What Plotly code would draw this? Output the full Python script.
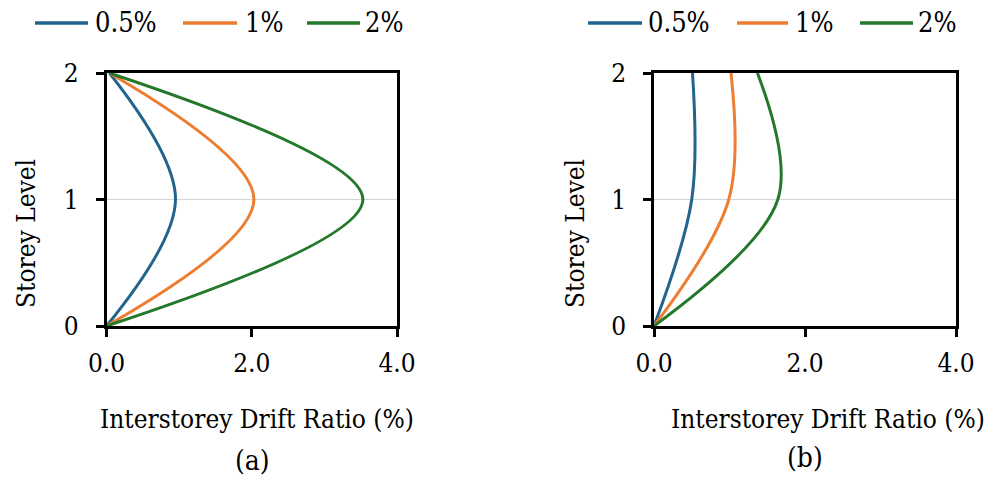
import plotly.graph_objects as go
from plotly.subplots import make_subplots

# Storey levels and interstorey drift ratios (%) for each drift limit
storey = [0, 1, 2]
series_names = ["0.5%", "1%", "2%"]
colors = ["#22648e", "#ed7d31", "#23782a"]

# (a) drift profiles
drift_a_05 = [0.0, 0.95, 0.04]
drift_a_1 = [0.0, 2.03, 0.04]
drift_a_2 = [0.0, 3.53, 0.04]

# (b) drift profiles
drift_b_05 = [0.0, 0.50, 0.51]
drift_b_1 = [0.0, 0.99, 1.02]
drift_b_2 = [0.0, 1.64, 1.37]

x_ticks = [0, 2, 4]
y_ticks = [0, 1, 2]

W, H = 1001, 477
FONT = "DejaVu Serif Condensed, DejaVu Serif"


def px(x):
    return x / W


def py(y):
    return 1 - y / H


fig = make_subplots(rows=1, cols=2)

panels = [
    (1, [drift_a_05, drift_a_1, drift_a_2]),
    (2, [drift_b_05, drift_b_1, drift_b_2]),
]
for col, profiles in panels:
    for name, color, vals in zip(series_names, colors, profiles):
        fig.add_trace(
            go.Scatter(
                x=vals, y=storey, name=name, mode="lines",
                line=dict(color=color, width=3, shape="spline", smoothing=1),
                showlegend=False, cliponaxis=False,
            ),
            row=1, col=col,
        )

xdomains = [[px(106.5), px(397)], [px(654), px(956)]]
ydomain = [py(326), py(73)]

axis_common = dict(
    showline=True, linecolor="black", linewidth=2.5, mirror=True,
    ticks="outside", ticklen=8, tickwidth=2.5, tickcolor="black",
    tickfont=dict(family=FONT, size=26, color="black"),
    zeroline=False, automargin=False,
)

for i, dom in enumerate(xdomains, start=1):
    fig.update_xaxes(
        domain=dom, range=[0, 4], tickvals=x_ticks, tickformat=".1f",
        showgrid=False, ticklabelstandoff=4, row=1, col=i, **axis_common,
    )
    fig.update_yaxes(
        domain=ydomain, range=[0, 2], tickvals=y_ticks,
        showgrid=True, gridcolor="#d4d4d4", gridwidth=1,
        ticklabelstandoff=12, row=1, col=i, **axis_common,
    )

annotations = []
shapes = []
title_font = dict(family=FONT, size=26, color="black")

# Axis titles and panel captions
for cx, cap, capx, capy in [(257, "(a)", 252, 460), (828, "(b)", 805, 457)]:
    annotations.append(dict(
        text="Interstorey Drift Ratio (%)", x=px(cx), y=py(419),
        xref="paper", yref="paper", xanchor="center", yanchor="middle",
        showarrow=False, font=title_font,
    ))
    annotations.append(dict(
        text=cap, x=px(capx), y=py(capy), xref="paper", yref="paper",
        xanchor="center", yanchor="middle", showarrow=False,
        font=dict(family=FONT, size=28, color="black"),
    ))

for cx in [26, 575]:
    annotations.append(dict(
        text="Storey Level", x=px(cx), y=py(234), xref="paper", yref="paper",
        xanchor="center", yanchor="middle", textangle=-90, showarrow=False,
        font=title_font,
    ))

# Legend keys above each panel
legend_rows = [
    [(35, 88, 93), (183, 237, 243), (307, 360, 363)],
    [(588, 642, 646), (737, 788, 793), (860, 913, 916)],
]
for row in legend_rows:
    for (x0, x1, tx), name, color in zip(row, series_names, colors):
        shapes.append(dict(
            type="line", xref="paper", yref="paper",
            x0=px(x0), x1=px(x1), y0=py(23), y1=py(23),
            line=dict(color=color, width=3.5),
        ))
        annotations.append(dict(
            text=name, x=px(tx), y=py(22), xref="paper", yref="paper",
            xanchor="left", yanchor="middle", showarrow=False,
            font=dict(family=FONT, size=27, color="black"),
        ))

fig.update_layout(
    width=W, height=H,
    margin=dict(l=0, r=0, t=0, b=0),
    paper_bgcolor="white", plot_bgcolor="white",
    font=dict(family=FONT, color="black"),
    annotations=annotations, shapes=shapes,
    showlegend=False,
)

fig.write_html("out.html")
